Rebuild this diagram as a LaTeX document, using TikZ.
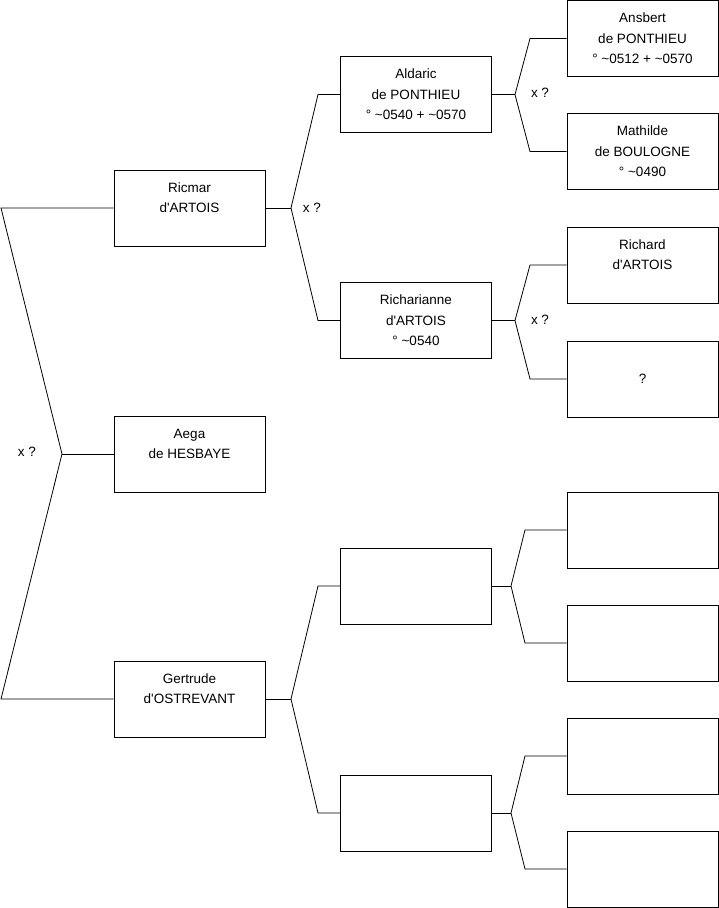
\documentclass[tikz,border=0pt]{standalone}
\usepackage{fontspec}
\setmainfont{Liberation Sans}
\usepackage{tikz}
\usetikzlibrary{calc}
\newcommand{\abt}{\textasciitilde}

\begin{document}
\begin{tikzpicture}[x=1pt,y=-1pt,line width=0.8pt,
    font=\fontsize{13.5}{20.5}\selectfont,
    pbox/.style={draw,minimum width=151pt,minimum height=76pt,align=center,inner sep=0pt},
    xq/.style={inner sep=1pt}]
  \useasboundingbox (0,0) rectangle (719,908);
  % generation 1
  \node[pbox] (ricmar)   at (189.5,208) {Ricmar\\d\textquotesingle ARTOIS\\\mbox{}};
  \node[pbox] (aega)     at (189.5,454) {Aega\\de HESBAYE\\\mbox{}};
  \node[pbox] (gertrude) at (189.5,699) {Gertrude\\d\textquotesingle OSTREVANT\\\mbox{}};
  % generation 2
  \node[pbox] (aldaric)     at (416,94.5)  {Aldaric\\de PONTHIEU\\° \abt0540 + \abt0570};
  \node[pbox] (richarianne) at (416,320.5) {Richarianne\\d\textquotesingle ARTOIS\\° \abt0540};
  \node[pbox] (gmidA)       at (416,586) {};
  \node[pbox] (gmidB)       at (416,813) {};
  % generation 3
  \node[pbox] (ansbert)  at (642.5,38.5) {Ansbert\\de PONTHIEU\\° \abt0512 + \abt0570};
  \node[pbox] (mathilde) at (642.5,151.5) {Mathilde\\de BOULOGNE\\° \abt0490};
  \node[pbox] (richard)  at (642.5,265) {Richard\\d\textquotesingle ARTOIS\\\mbox{}};
  \node[pbox] (unknown)  at (642.5,379) {?};
  \node[pbox] (gA) at (642.5,530) {};
  \node[pbox] (gB) at (642.5,643) {};
  \node[pbox] (gC) at (642.5,756) {};
  \node[pbox] (gD) at (642.5,869) {};

  % left fork
  \coordinate (f0)  at (62,454);
  \coordinate (f0a) at (1,208);
  \coordinate (f0b) at (1,699);
  \draw (ricmar.west) -- (f0a) -- (f0) -- (f0b) -- (gertrude.west);
  \draw (f0) -- (aega.west);
  \node[xq] (xq0) at (27,452) {x ?};

  % ricmar
  \coordinate (f1)  at (291,208);
  \coordinate (f1a) at (318,94.5);
  \coordinate (f1b) at (318,320.5);
  \draw (ricmar.east) -- (f1);
  \draw (aldaric.west) -- (f1a) -- (f1) -- (f1b) -- (richarianne.west);
  \node[xq] (xq1) at (312,208) {x ?};

  % aldaric
  \coordinate (f2)  at (515,94.5);
  \coordinate (f2a) at (530,38.5);
  \coordinate (f2b) at (530,151.5);
  \draw (aldaric.east) -- (f2);
  \draw (ansbert.west) -- (f2a) -- (f2) -- (f2b) -- (mathilde.west);
  \node[xq] (xq2) at (540,93) {x ?};

  % richarianne
  \coordinate (f3)  at (515,320.5);
  \coordinate (f3a) at (530,265);
  \coordinate (f3b) at (530,379);
  \draw (richarianne.east) -- (f3);
  \draw (richard.west) -- (f3a) -- (f3) -- (f3b) -- (unknown.west);
  \node[xq] (xq3) at (540,320) {x ?};

  % gertrude
  \coordinate (f4)  at (291,699);
  \coordinate (f4a) at (318,586);
  \coordinate (f4b) at (318,813);
  \draw (gertrude.east) -- (f4);
  \draw (gmidA.west) -- (f4a) -- (f4) -- (f4b) -- (gmidB.west);

  % empty branches
  \coordinate (f5)  at (511,586);
  \coordinate (f5a) at (525,530);
  \coordinate (f5b) at (525,643);
  \draw (gmidA.east) -- (f5);
  \draw (gA.west) -- (f5a) -- (f5) -- (f5b) -- (gB.west);
  \coordinate (f6)  at (511,813);
  \coordinate (f6a) at (525,756);
  \coordinate (f6b) at (525,869);
  \draw (gmidB.east) -- (f6);
  \draw (gC.west) -- (f6a) -- (f6) -- (f6b) -- (gD.west);
\end{tikzpicture}
\end{document}
